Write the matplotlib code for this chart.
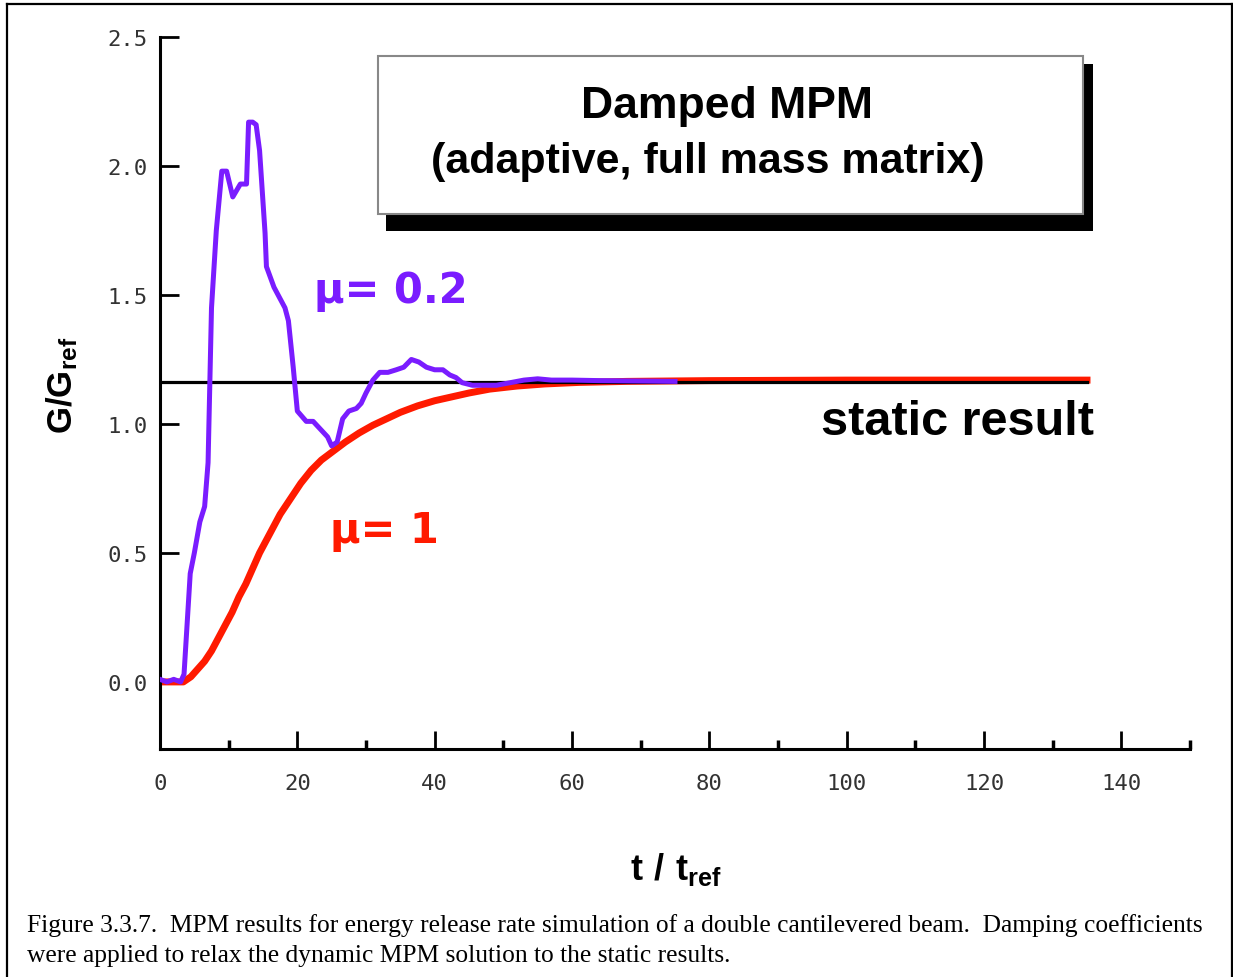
"""
Damped MPM energy release rate plot (double cantilevered beam)
"""

import matplotlib.pyplot as plt
from matplotlib.patches import Rectangle
from matplotlib.lines import Line2D

# Data
t_mu02 = [0, 1, 2, 3, 3.5, 4.4, 5.0, 5.8, 6.5, 7.0, 7.5, 8.2, 9.0, 9.7, 10.6,
          11.7, 12.6, 12.9, 13.5, 14.0, 14.5, 15.3, 15.5, 16.6, 18.2, 18.7,
          19.4, 20.0, 21.3, 22.3, 23.7, 24.4, 25.0, 25.8, 26.6, 27.5, 28.6,
          29.3, 30.0, 31.0, 32.0, 33.2, 34.4, 35.5, 36.6, 37.7, 38.8, 40.0,
          41.2, 42.2, 43.1, 44.0, 45.5, 47.0, 49.0, 51.0, 53.0, 55.0, 57.0,
          60.0, 64.0, 68.0, 72.0, 75.0]
g_mu02 = [0.01, 0.0, 0.01, 0.0, 0.03, 0.42, 0.50, 0.62, 0.68, 0.85, 1.45, 1.75,
          1.98, 1.98, 1.88, 1.93, 1.93, 2.17, 2.17, 2.16, 2.06, 1.74, 1.61,
          1.53, 1.45, 1.40, 1.22, 1.05, 1.01, 1.01, 0.97, 0.95, 0.915, 0.93,
          1.02, 1.05, 1.06, 1.08, 1.12, 1.17, 1.20, 1.20, 1.21, 1.22, 1.25,
          1.24, 1.22, 1.21, 1.21, 1.19, 1.18, 1.16, 1.15, 1.15, 1.15, 1.16,
          1.17, 1.175, 1.17, 1.17, 1.168, 1.167, 1.166, 1.165]

t_mu1 = [0, 3.4, 4.5, 5.5, 6.5, 7.5, 8.5, 9.5, 10.5, 11.5, 12.5, 13.5, 14.5,
         15.5, 16.5, 17.5, 18.5, 19.5, 20.5, 22, 23.5, 25, 27, 29, 31, 33, 35,
         37.5, 40, 42.5, 45, 48, 52, 56, 61, 68, 80, 100, 135]
g_mu1 = [0, 0, 0.02, 0.05, 0.08, 0.12, 0.17, 0.22, 0.27, 0.33, 0.38, 0.44,
         0.50, 0.55, 0.60, 0.65, 0.69, 0.73, 0.77, 0.82, 0.86, 0.89, 0.93,
         0.965, 0.995, 1.02, 1.045, 1.07, 1.09, 1.105, 1.12, 1.135, 1.147,
         1.155, 1.161, 1.165, 1.168, 1.17, 1.17]

t_static = [0, 135]
g_static = [1.162, 1.162]

x_ticks = [0, 20, 40, 60, 80, 100, 120, 140]
x_minor = [10, 30, 50, 70, 90, 110, 130, 150]
y_ticks = [0.0, 0.5, 1.0, 1.5, 2.0, 2.5]

W, H = 1233, 978
PURPLE = '#7a1cff'
RED = '#ff1a00'


def fx(px):
    return px / W


def fy(py):
    return 1 - py / H


plt.rcParams['mathtext.fontset'] = 'custom'
plt.rcParams['mathtext.rm'] = 'Liberation Sans'
plt.rcParams['mathtext.bf'] = 'Liberation Sans:bold'

fig = plt.figure(figsize=(W / 100, H / 100), dpi=100)
ax = fig.add_axes([fx(160), fy(750), fx(1190) - fx(160), fy(38) - fy(750)])

# Curves
ax.plot(t_mu1, g_mu1, color=RED, linewidth=5, solid_joinstyle='round', zorder=2)
ax.plot(t_mu02, g_mu02, color=PURPLE, linewidth=3.6, solid_joinstyle='round', zorder=3)
ax.plot(t_static, g_static, color='black', linewidth=2.3, zorder=2.5)

ax.set_xlim(0, 150)
ax.set_ylim(-0.26, 2.5)

# Axes styling
for side in ['top', 'right']:
    ax.spines[side].set_visible(False)
for side in ['left', 'bottom']:
    ax.spines[side].set_linewidth(2.2)
ax.set_xticks(x_ticks)
ax.set_xticks(x_minor, minor=True)
ax.set_yticks(y_ticks)
ax.set_yticklabels([f'{v:.1f}' for v in y_ticks])
ax.tick_params(axis='x', which='major', direction='in', length=13, width=2, pad=17)
ax.tick_params(axis='x', which='minor', direction='in', length=6.5, width=2.5)
ax.tick_params(axis='y', which='major', direction='in', length=14, width=2, pad=9)
for lbl in ax.get_xticklabels() + ax.get_yticklabels():
    lbl.set_fontfamily('DejaVu Sans Mono')
    lbl.set_fontsize(16)
    lbl.set_color('#333333')

# Curve annotations
ax.text(22.5, 1.473, '\u03bc= 0.2', color=PURPLE, fontsize=30, fontweight='bold',
        family='DejaVu Sans', va='baseline', ha='left')
ax.text(24.7, 0.543, '\u03bc= 1', color=RED, fontsize=30, fontweight='bold',
        family='DejaVu Sans', va='baseline', ha='left')
ax.text(96.2, 0.961, 'static result', color='black', fontsize=35, fontweight='bold',
        family='Liberation Sans', va='baseline', ha='left')

# Title box with drop shadow
fig.add_artist(Rectangle((fx(386), fy(232)), fx(1093) - fx(386), fy(65) - fy(232),
                         transform=fig.transFigure, facecolor='black', edgecolor='none'))
fig.add_artist(Rectangle((fx(378), fy(215)), fx(1083) - fx(378), fy(57) - fy(215),
                         transform=fig.transFigure, facecolor='white', edgecolor='#888888',
                         linewidth=1.5))
fig.text(fx(727), fy(118), 'Damped MPM', fontsize=32, fontweight='bold',
         family='Liberation Sans', ha='center', va='baseline')
fig.text(fx(708), fy(173), '(adaptive, full mass matrix)', fontsize=31, fontweight='bold',
         family='Liberation Sans', ha='center', va='baseline')

# Axis labels
fig.text(fx(676), fy(880), r'$\mathbf{t\ /\ t_{ref}}$', fontsize=26,
         ha='center', va='baseline')
fig.text(fx(62), fy(385), r'$\mathbf{G/G_{ref}}$', fontsize=25, rotation=90,
         ha='center', va='center')

# Outer frame
frame_kw = dict(transform=fig.transFigure, color='black', linewidth=1.6)
fig.add_artist(Line2D([fx(7), fx(7)], [0, fy(5)], **frame_kw))
fig.add_artist(Line2D([fx(7), fx(1232)], [fy(5), fy(5)], **frame_kw))
fig.add_artist(Line2D([fx(1232), fx(1232)], [0, fy(5)], **frame_kw))

# Caption
fig.text(fx(27), fy(932), 'Figure 3.3.7.  MPM results for energy release rate simulation of a '
         'double cantilevered beam.  Damping coefficients',
         fontsize=18.4, family='Liberation Serif', ha='left', va='baseline')
fig.text(fx(27), fy(962), 'were applied to relax the dynamic MPM solution to the static results.',
         fontsize=18.4, family='Liberation Serif', ha='left', va='baseline')

fig.savefig('out.png', dpi=100)
plt.close(fig)
